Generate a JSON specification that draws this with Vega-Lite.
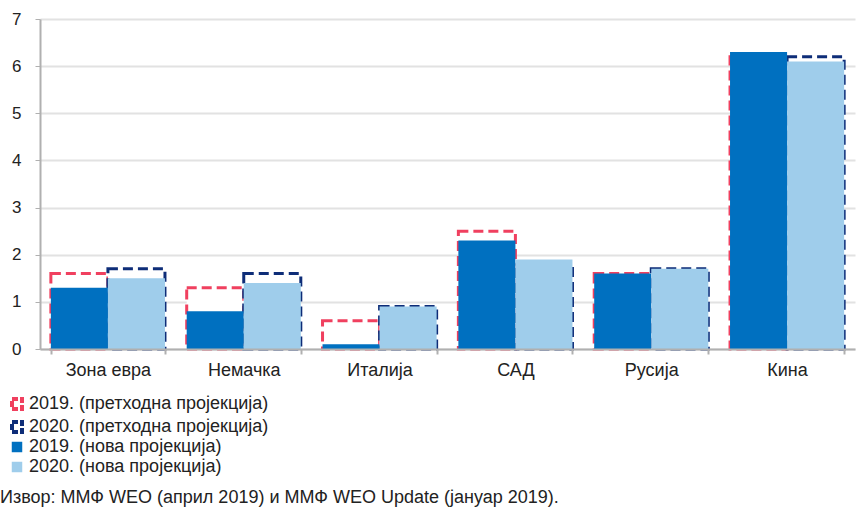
{
  "$schema": "https://vega.github.io/schema/vega-lite/v6.json",
  "width": 815,
  "height": 330,
  "autosize": {"type": "none"},
  "padding": {"left": 40, "top": 19, "right": 3, "bottom": 159},
  "background": "white",
  "config": {"font": "Liberation Sans", "view": {"stroke": null}},
  "title": {
    "text": "Извор: ММФ WEO (април 2019) и ММФ WEO Update (јануар 2019).",
    "orient": "bottom",
    "anchor": "start",
    "frame": "group",
    "fontSize": 18,
    "fontWeight": "normal",
    "color": "#222",
    "offset": 13,
    "dx": -40
  },
  "data": {
    "values": [
      {"country": "Зона евра", "year": "2019", "kind": "new", "series": "2019. (нова пројекција)", "value": 1.3},
      {"country": "Зона евра", "year": "2020", "kind": "new", "series": "2020. (нова пројекција)", "value": 1.5},
      {"country": "Зона евра", "year": "2019", "kind": "prev", "series": "2019. (претходна пројекција)", "value": 1.6},
      {"country": "Зона евра", "year": "2020", "kind": "prev", "series": "2020. (претходна пројекција)", "value": 1.7},
      {"country": "Немачка", "year": "2019", "kind": "new", "series": "2019. (нова пројекција)", "value": 0.8},
      {"country": "Немачка", "year": "2020", "kind": "new", "series": "2020. (нова пројекција)", "value": 1.4},
      {"country": "Немачка", "year": "2019", "kind": "prev", "series": "2019. (претходна пројекција)", "value": 1.3},
      {"country": "Немачка", "year": "2020", "kind": "prev", "series": "2020. (претходна пројекција)", "value": 1.6},
      {"country": "Италија", "year": "2019", "kind": "new", "series": "2019. (нова пројекција)", "value": 0.1},
      {"country": "Италија", "year": "2020", "kind": "new", "series": "2020. (нова пројекција)", "value": 0.9},
      {"country": "Италија", "year": "2019", "kind": "prev", "series": "2019. (претходна пројекција)", "value": 0.6},
      {"country": "Италија", "year": "2020", "kind": "prev", "series": "2020. (претходна пројекција)", "value": 0.9},
      {"country": "САД", "year": "2019", "kind": "new", "series": "2019. (нова пројекција)", "value": 2.3},
      {"country": "САД", "year": "2020", "kind": "new", "series": "2020. (нова пројекција)", "value": 1.9},
      {"country": "САД", "year": "2019", "kind": "prev", "series": "2019. (претходна пројекција)", "value": 2.5},
      {"country": "САД", "year": "2020", "kind": "prev", "series": "2020. (претходна пројекција)", "value": 1.8},
      {"country": "Русија", "year": "2019", "kind": "new", "series": "2019. (нова пројекција)", "value": 1.6},
      {"country": "Русија", "year": "2020", "kind": "new", "series": "2020. (нова пројекција)", "value": 1.7},
      {"country": "Русија", "year": "2019", "kind": "prev", "series": "2019. (претходна пројекција)", "value": 1.6},
      {"country": "Русија", "year": "2020", "kind": "prev", "series": "2020. (претходна пројекција)", "value": 1.7},
      {"country": "Кина", "year": "2019", "kind": "new", "series": "2019. (нова пројекција)", "value": 6.3},
      {"country": "Кина", "year": "2020", "kind": "new", "series": "2020. (нова пројекција)", "value": 6.1},
      {"country": "Кина", "year": "2019", "kind": "prev", "series": "2019. (претходна пројекција)", "value": 6.2},
      {"country": "Кина", "year": "2020", "kind": "prev", "series": "2020. (претходна пројекција)", "value": 6.2}
    ]
  },
  "encoding": {
    "x": {
      "field": "country",
      "type": "nominal",
      "sort": ["Зона евра", "Немачка", "Италија", "САД", "Русија", "Кина"],
      "scale": {"paddingInner": 0.16, "paddingOuter": 0.08},
      "axis": {
        "title": null,
        "labelAngle": 0,
        "labelFontSize": 18,
        "labelColor": "#222",
        "labelPadding": 7,
        "tickBand": "extent",
        "domainColor": "#b0b0b0",
        "domainWidth": 2,
        "tickColor": "#b0b0b0",
        "tickWidth": 2,
        "tickSize": 5,
        "zindex": 1
      }
    },
    "xOffset": {"field": "year", "type": "nominal", "scale": {"paddingInner": 0, "paddingOuter": 0}},
    "y": {
      "field": "value",
      "type": "quantitative",
      "scale": {"domain": [0, 7], "nice": false},
      "axis": {
        "title": null,
        "values": [0, 1, 2, 3, 4, 5, 6, 7],
        "labelFontSize": 17,
        "labelColor": "#222",
        "labelPadding": 14,
        "gridColor": "#e2e2e2",
        "gridWidth": 2,
        "domainColor": "#b0b0b0",
        "domainWidth": 2,
        "tickColor": "#b0b0b0",
        "tickSize": 5
      }
    }
  },
  "layer": [
    {
      "transform": [{"filter": "datum.kind == 'prev'"}],
      "mark": {"type": "bar", "fill": "white", "strokeWidth": 3, "strokeDash": [10, 5]},
      "encoding": {
        "stroke": {
          "field": "series",
          "type": "nominal",
          "scale": {
            "domain": ["2019. (претходна пројекција)", "2020. (претходна пројекција)"],
            "range": ["#F0405F", "#0E2D78"]
          },
          "legend": {
            "orient": "none",
            "legendX": -32,
            "legendY": 376,
            "title": null,
            "labelFontSize": 18,
            "labelColor": "#222",
            "labelOffset": 3,
            "labelLimit": 500,
            "symbolType": "square",
            "symbolSize": 100,
            "symbolFillColor": "white",
            "symbolStrokeWidth": 4,
            "symbolDash": [6, 2],
            "rowPadding": -3
          }
        }
      }
    },
    {
      "transform": [{"filter": "datum.kind == 'new'"}],
      "mark": {"type": "bar"},
      "encoding": {
        "fill": {
          "field": "series",
          "type": "nominal",
          "scale": {
            "domain": ["2019. (нова пројекција)", "2020. (нова пројекција)"],
            "range": ["#0070C0", "#9FCDEB"]
          },
          "legend": {
            "orient": "none",
            "legendX": -32,
            "legendY": 419,
            "title": null,
            "labelFontSize": 18,
            "labelColor": "#222",
            "labelOffset": 3,
            "labelLimit": 500,
            "symbolType": "square",
            "symbolSize": 110,
            "symbolStrokeWidth": 0,
            "rowPadding": 2
          }
        }
      }
    }
  ]
}
